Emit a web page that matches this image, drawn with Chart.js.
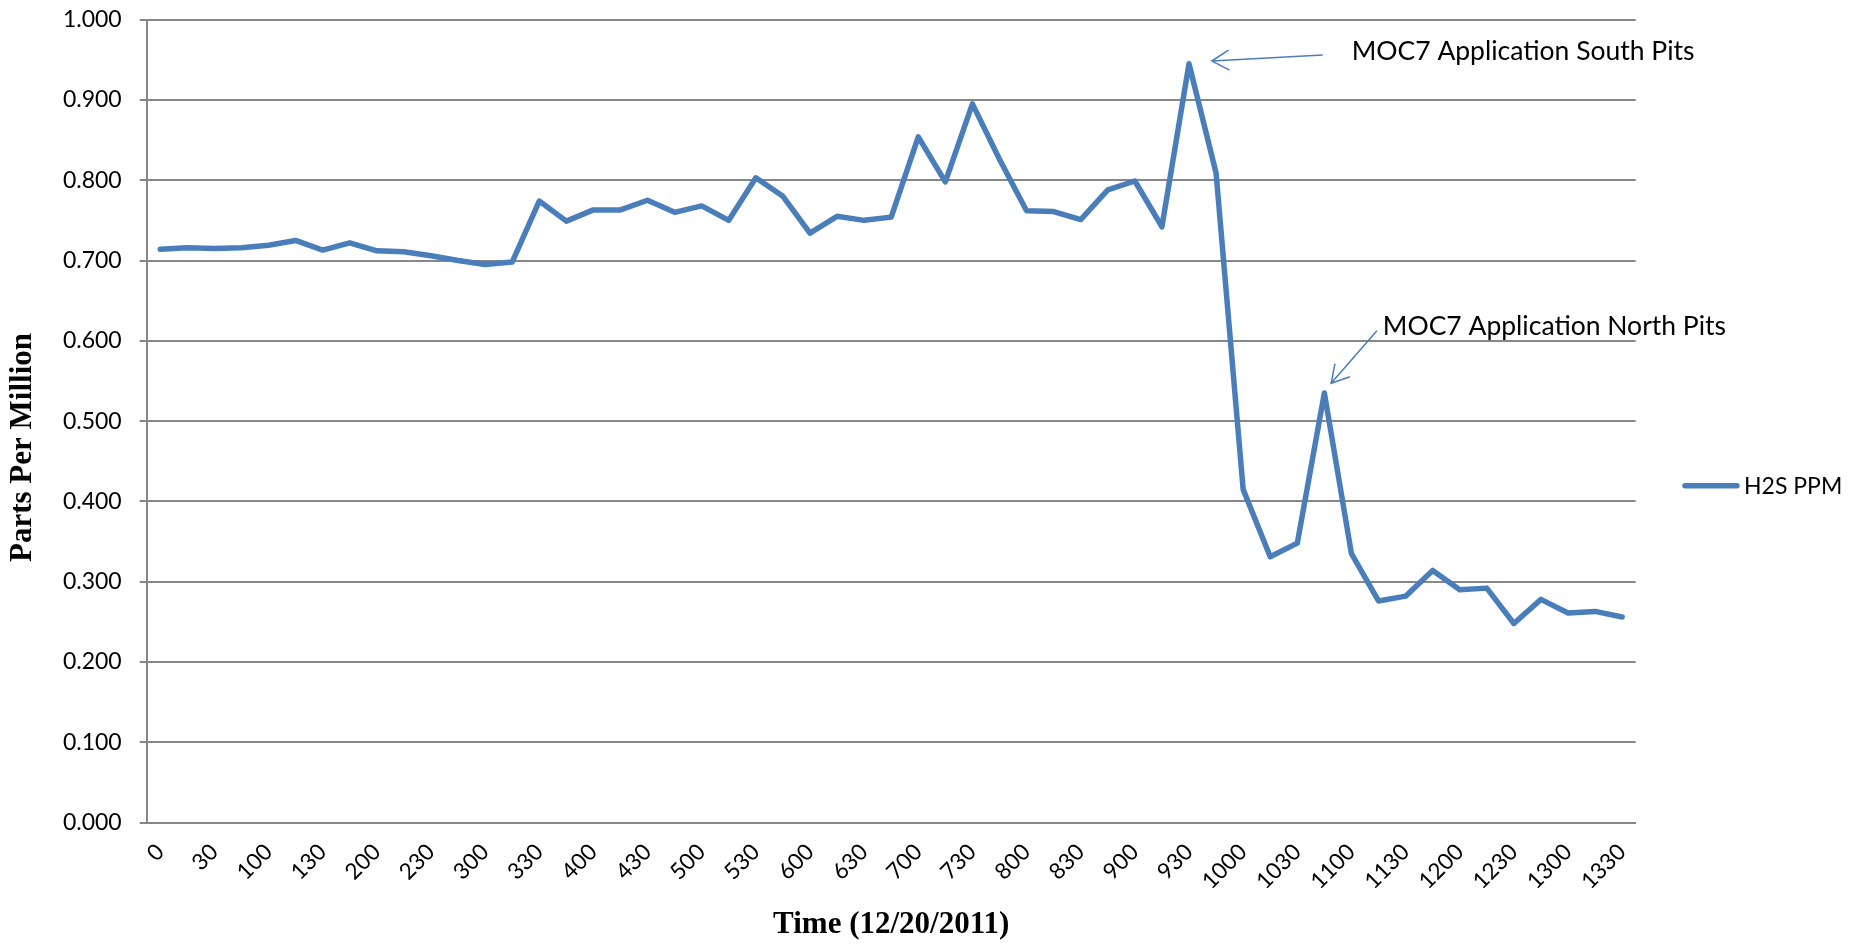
<!DOCTYPE html>
<html>
<head>
<meta charset="utf-8">
<script src="https://cdn.jsdelivr.net/npm/chart.js@4.4.1/dist/chart.umd.min.js"></script>
<style>
html,body{margin:0;padding:0;background:#ffffff;}
#wrap{width:1857px;height:948px;position:relative;}
</style>
</head>
<body>
<div id="wrap"><canvas id="c"></canvas></div>
<script>
// ---- data ----
const timeLabels = ["0","15","30","45","100","115","130","145","200","215","230","245","300","315","330","345","400","415","430","445","500","515","530","545","600","615","630","645","700","715","730","745","800","815","830","845","900","915","930","945","1000","1015","1030","1045","1100","1115","1130","1145","1200","1215","1230","1245","1300","1315","1330"];
const h2sPpm = [0.714,0.716,0.715,0.716,0.719,0.725,0.713,0.722,0.712,0.711,0.706,0.700,0.695,0.698,0.774,0.749,0.763,0.763,0.775,0.760,0.768,0.750,0.803,0.780,0.734,0.755,0.750,0.754,0.854,0.798,0.895,0.826,0.762,0.761,0.751,0.788,0.799,0.742,0.945,0.809,0.415,0.331,0.348,0.535,0.335,0.276,0.282,0.314,0.290,0.292,0.248,0.278,0.261,0.263,0.256];
const seriesName = "H2S PPM";
const xAxisTitle = "Time (12/20/2011)";
const yAxisTitle = "Parts Per Million";
const yMin = 0, yMax = 1, yStep = 0.1;
// callouts: positions in data space (category index, ppm value)
const calloutTexts = ["MOC7 Application South Pits", "MOC7 Application North Pits"];
const calloutTextAt = [[44.01, 0.9497], [45.16, 0.6069]];
const calloutTail = [[42.94, 0.9559], [44.94, 0.6126]];
const calloutTip = [[38.84, 0.9484], [43.25, 0.5471]];

// ---- style ----
const LINE_COLOR = "#4a7ebb";
const GRID_COLOR = "#878787";
const PLOT_LEFT = 146.7, PLOT_BOTTOM = 822.6, PLOT_RIGHT = 1635.7, PLOT_TOP = 19.6;
const W = 1857, H = 948;

const extrasPlugin = {
  id: "extras",
  afterDraw(chart) {
    const ctx = chart.ctx;
    const xs = chart.scales.x, ys = chart.scales.y;
    const P = (p) => [xs.getPixelForValue(p[0]), ys.getPixelForValue(p[1])];
    ctx.save();
    // y axis title
    ctx.save();
    ctx.translate(22.5, 447.5);
    ctx.rotate(-Math.PI / 2);
    ctx.font = 'bold 31px "Liberation Serif"';
    ctx.fillStyle = "#000";
    ctx.textAlign = "center";
    ctx.textBaseline = "middle";
    ctx.fillText(yAxisTitle, 0, 0);
    ctx.restore();
    // legend
    const ly = 485.7;
    ctx.strokeStyle = LINE_COLOR;
    ctx.lineWidth = 5.5;
    ctx.lineCap = "round";
    ctx.beginPath();
    ctx.moveTo(1685, ly);
    ctx.lineTo(1737, ly);
    ctx.stroke();
    ctx.font = '23px Lato';
    ctx.fillStyle = "#000";
    ctx.textAlign = "left";
    ctx.textBaseline = "middle";
    ctx.fillText(chart.data.datasets[0].label, 1744, ly + 1);
    // callouts
    for (let i = 0; i < calloutTexts.length; i++) {
      const t = P(calloutTextAt[i]);
      ctx.font = '26.5px Lato';
      ctx.fillStyle = "#000";
      ctx.textAlign = "left";
      ctx.textBaseline = "alphabetic";
      ctx.fillText(calloutTexts[i], t[0], t[1]);
      const a = P(calloutTail[i]), b = P(calloutTip[i]);
      ctx.strokeStyle = LINE_COLOR;
      ctx.lineWidth = 1.5;
      ctx.lineCap = "butt";
      ctx.beginPath();
      ctx.moveTo(a[0], a[1]);
      ctx.lineTo(b[0], b[1]);
      const ang = Math.atan2(b[1] - a[1], b[0] - a[0]);
      const L = 20, s = Math.PI / 6;
      ctx.moveTo(b[0] - L * Math.cos(ang - s), b[1] - L * Math.sin(ang - s));
      ctx.lineTo(b[0], b[1]);
      ctx.lineTo(b[0] - L * Math.cos(ang + s), b[1] - L * Math.sin(ang + s));
      ctx.stroke();
    }
    ctx.restore();
  }
};

Chart.defaults.font.family = "Lato";
Chart.defaults.color = "#000";

new Chart(document.getElementById("c"), {
  type: "line",
  data: {
    labels: timeLabels,
    datasets: [{
      label: seriesName,
      data: h2sPpm,
      borderColor: LINE_COLOR,
      backgroundColor: LINE_COLOR,
      borderWidth: 5.5,
      pointRadius: 0,
      tension: 0,
      borderJoinStyle: "round",
      borderCapStyle: "round"
    }]
  },
  options: {
    responsive: true,
    maintainAspectRatio: false,
    animation: false,
    layout: { autoPadding: false, padding: { top: PLOT_TOP, right: W - PLOT_RIGHT, bottom: 0, left: 0 } },
    plugins: { legend: { display: false }, tooltip: { enabled: false } },
    scales: {
      x: {
        offset: true,
        grid: { display: false, drawTicks: false },
        border: { display: true, color: GRID_COLOR, width: 2 },
        ticks: {
          autoSkip: false,
          maxRotation: 45,
          minRotation: 45,
          padding: 16,
          font: { size: 22.5 },
          color: "#000",
          callback: function (val, idx) { return idx % 2 === 0 ? this.getLabelForValue(val) : ""; }
        },
        title: {
          display: true,
          text: xAxisTitle,
          color: "#000",
          font: { family: "Liberation Serif", size: 31, weight: "bold" },
          padding: { top: 0, bottom: 4 }
        },
        afterFit(scale) {
          scale.height = H - PLOT_BOTTOM;
          scale.paddingLeft = 0; scale.paddingRight = 0;
          scale.paddingTop = 0; scale.paddingBottom = 0;
        }
      },
      y: {
        min: yMin,
        max: yMax,
        grid: { color: GRID_COLOR, lineWidth: 2, drawTicks: true, tickLength: 7 },
        border: { display: true, color: GRID_COLOR, width: 2 },
        ticks: {
          stepSize: yStep,
          padding: 18,
          font: { size: 23 },
          color: "#000",
          callback: (v) => Number(v).toFixed(3)
        },
        afterFit(scale) {
          scale.width = PLOT_LEFT;
          scale.paddingTop = 0; scale.paddingBottom = 0;
          scale.paddingLeft = 0; scale.paddingRight = 0;
        }
      }
    }
  },
  plugins: [extrasPlugin]
});
</script>
</body>
</html>
